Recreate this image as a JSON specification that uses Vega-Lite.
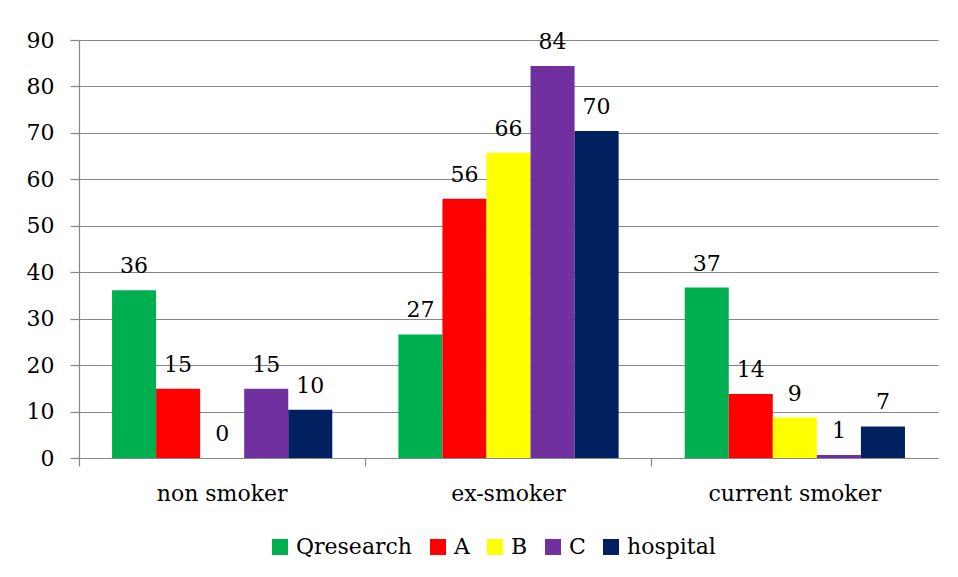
{
  "$schema": "https://vega.github.io/schema/vega-lite/v6.json",
  "width": 859,
  "height": 418,
  "autosize": {"type": "none"},
  "padding": {"left": 79, "top": 40, "right": 20, "bottom": 119},
  "background": "white",
  "config": {
    "view": {"stroke": null},
    "font": "DejaVu Serif",
    "axis": {
      "labelFont": "DejaVu Serif",
      "labelFontSize": 22,
      "labelColor": "#000000",
      "domainColor": "#868686",
      "tickColor": "#868686",
      "gridColor": "#868686",
      "domainWidth": 1.2,
      "tickWidth": 1.2,
      "gridWidth": 1.2
    },
    "legend": {"padding": 0, "labelFont": "DejaVu Serif", "labelFontSize": 22, "labelColor": "#000000"},
    "text": {"font": "DejaVu Serif"}
  },
  "data": {
    "values": [
      {"status": "non smoker", "source": "Qresearch", "value": 36.1},
      {"status": "non smoker", "source": "A", "value": 14.9},
      {"status": "non smoker", "source": "B", "value": 0},
      {"status": "non smoker", "source": "C", "value": 14.9},
      {"status": "non smoker", "source": "hospital", "value": 10.4},
      {"status": "ex-smoker", "source": "Qresearch", "value": 26.6},
      {"status": "ex-smoker", "source": "A", "value": 55.8},
      {"status": "ex-smoker", "source": "B", "value": 65.7},
      {"status": "ex-smoker", "source": "C", "value": 84.4},
      {"status": "ex-smoker", "source": "hospital", "value": 70.4},
      {"status": "current smoker", "source": "Qresearch", "value": 36.7},
      {"status": "current smoker", "source": "A", "value": 13.8},
      {"status": "current smoker", "source": "B", "value": 8.7},
      {"status": "current smoker", "source": "C", "value": 0.65},
      {"status": "current smoker", "source": "hospital", "value": 6.8}
    ]
  },
  "layer": [
    {
      "mark": {"type": "bar"},
      "encoding": {
        "x": {
          "field": "status", "type": "nominal", "sort": null,
          "scale": {"paddingInner": 0, "paddingOuter": 0},
          "axis": {"orient": "bottom", "title": null, "labelAngle": 0, "ticks": false, "tickSize": 0, "domain": false, "grid": false, "labelPadding": 25}
        },
        "xOffset": {
          "field": "source", "type": "nominal",
          "sort": ["Qresearch", "A", "B", "C", "hospital"],
          "scale": {"paddingInner": 0, "paddingOuter": 0.75}
        },
        "y": {
          "field": "value", "type": "quantitative",
          "scale": {"domain": [0, 90]},
          "axis": {"title": null, "values": [0, 10, 20, 30, 40, 50, 60, 70, 80, 90], "grid": true, "tickSize": 9, "labelPadding": 16}
        },
        "color": {
          "field": "source", "type": "nominal",
          "sort": ["Qresearch", "A", "B", "C", "hospital"],
          "scale": {"domain": ["Qresearch", "A", "B", "C", "hospital"], "range": ["#00B050", "#FF0000", "#FFFF00", "#7030A0", "#002060"]},
          "legend": {
            "title": null, "orient": "none", "direction": "horizontal",
            "legendX": 190, "legendY": 496,
            "symbolType": "square", "symbolSize": 256, "symbolStrokeWidth": 0,
            "labelFont": "DejaVu Serif", "labelFontSize": 22, "labelColor": "#000000",
            "labelOffset": 5, "columnPadding": 14
          }
        }
      }
    },
    {
      "mark": {"type": "text", "dy": -17, "baseline": "alphabetic", "fontSize": 22, "font": "DejaVu Serif", "color": "#000000"},
      "encoding": {
        "x": {
          "field": "status", "type": "nominal", "sort": null,
          "axis": {"orient": "bottom", "title": null, "labels": false, "ticks": true, "tickSize": 8, "bandPosition": 0, "domain": true, "grid": false}
        },
        "xOffset": {
          "field": "source", "type": "nominal",
          "sort": ["Qresearch", "A", "B", "C", "hospital"]
        },
        "y": {"field": "value", "type": "quantitative"},
        "text": {"field": "value", "type": "quantitative", "format": ".0f"}
      }
    }
  ],
  "resolve": {"axis": {"x": "independent"}}
}
